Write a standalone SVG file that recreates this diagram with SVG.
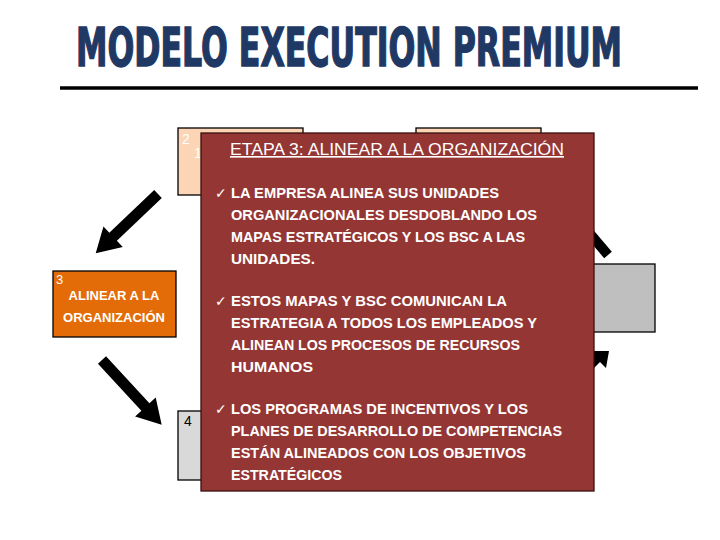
<svg xmlns="http://www.w3.org/2000/svg" width="720" height="540" viewBox="0 0 720 540">
<style>
.title{font-family:"DejaVu Sans Condensed","DejaVu Sans",sans-serif;font-weight:bold;font-size:53px;fill:#1F3864;stroke:#1F3864;stroke-width:1.5}
.b{font-family:"Liberation Sans",Arial,sans-serif;font-weight:bold;font-size:14.5px;fill:#FFFFFF}
.chk{font-family:"DejaVu Sans",sans-serif;font-size:14px;fill:#FFFFFF}
.h{font-family:"Liberation Sans",Arial,sans-serif;font-size:16.5px;fill:#FFFFFF;text-decoration:underline}
.o{font-family:"Liberation Sans",Arial,sans-serif;font-weight:bold;font-size:13px;fill:#FFFFFF;text-anchor:middle}
.n{font-family:"Liberation Sans",Arial,sans-serif;font-size:14px}
.box{stroke:#000;stroke-width:1.3}
</style>
<rect width="720" height="540" fill="#FFFFFF"/>
<text class="title" x="76" y="66" textLength="546" lengthAdjust="spacingAndGlyphs">MODELO EXECUTION PREMIUM</text>
<line x1="60" y1="88" x2="698" y2="88" stroke="#000" stroke-width="3.5"/>

<g id="node-2">
<rect class="box" x="178" y="128" width="125" height="67" fill="#FBD5B5"/>
<text class="n" x="182" y="144" fill="#FFFFFF">2</text>
<text class="n" x="194" y="158" fill="#FFFFFF">1</text>
</g>
<g id="node-1">
<rect class="box" x="416" y="128" width="125" height="67" fill="#FBD5B5"/>
</g>
<g id="node-right">
<rect class="box" x="560" y="264" width="95" height="68" fill="#BFBFBF"/>
</g>
<g id="node-4">
<rect class="box" x="178" y="411" width="40" height="69" fill="#D9D9D9"/>
<text class="n" x="184" y="426" fill="#000">4</text>
</g>
<g id="node-3">
<rect class="box" x="53" y="271" width="123" height="66" fill="#E36C09"/>
<text class="n" x="56" y="284" fill="#FFFFFF" style="font-size:13px">3</text>
<text class="o" x="114" y="300">ALINEAR A LA</text>
<text class="o" x="114" y="322">ORGANIZACIÓN</text>
</g>

<g id="connectors" fill="#000">
<path d="M0,-5.5 L62,-5.5 L62,-14 L86,0 L62,14 L62,5.5 L0,5.5 Z" transform="translate(158,194) rotate(136.4)"/>
<path d="M0,-5.5 L64,-5.5 L64,-14 L88,0 L64,14 L64,5.5 L0,5.5 Z" transform="translate(102,360) rotate(47.3)"/>
<line x1="580" y1="222" x2="608" y2="255" stroke="#000" stroke-width="10"/>
<polygon points="590,351 609,351 606,368 600,362 592,370"/>
</g>

<g id="node-etapa3">
<rect x="201" y="133" width="393" height="358" fill="#943634" stroke="#3a1010" stroke-width="1.3"/>
<text class="h" x="230" y="155" textLength="334" lengthAdjust="spacingAndGlyphs">ETAPA 3:  ALINEAR A LA ORGANIZACIÓN</text>
<text class="chk" x="215" y="198">✓</text>
<text class="b" x="231" y="198" textLength="268" lengthAdjust="spacingAndGlyphs">LA EMPRESA ALINEA SUS UNIDADES</text>
<text class="b" x="231" y="220" textLength="306" lengthAdjust="spacingAndGlyphs">ORGANIZACIONALES DESDOBLANDO LOS</text>
<text class="b" x="231" y="242" textLength="294" lengthAdjust="spacingAndGlyphs">MAPAS ESTRATÉGICOS Y LOS BSC A LAS</text>
<text class="b" x="231" y="264" textLength="84" lengthAdjust="spacingAndGlyphs">UNIDADES.</text>
<text class="chk" x="215" y="306">✓</text>
<text class="b" x="231" y="306" textLength="276" lengthAdjust="spacingAndGlyphs">ESTOS MAPAS Y BSC COMUNICAN LA</text>
<text class="b" x="231" y="328" textLength="306" lengthAdjust="spacingAndGlyphs">ESTRATEGIA A TODOS LOS EMPLEADOS Y</text>
<text class="b" x="231" y="350" textLength="289" lengthAdjust="spacingAndGlyphs">ALINEAN LOS PROCESOS DE RECURSOS</text>
<text class="b" x="231" y="372" textLength="82" lengthAdjust="spacingAndGlyphs">HUMANOS</text>
<text class="chk" x="215" y="414">✓</text>
<text class="b" x="231" y="414" textLength="297" lengthAdjust="spacingAndGlyphs">LOS PROGRAMAS DE INCENTIVOS Y LOS</text>
<text class="b" x="231" y="436" textLength="331" lengthAdjust="spacingAndGlyphs">PLANES DE DESARROLLO DE COMPETENCIAS</text>
<text class="b" x="231" y="458" textLength="295" lengthAdjust="spacingAndGlyphs">ESTÁN ALINEADOS CON LOS OBJETIVOS</text>
<text class="b" x="231" y="480" textLength="111" lengthAdjust="spacingAndGlyphs">ESTRATÉGICOS</text>
</g>
</svg>
